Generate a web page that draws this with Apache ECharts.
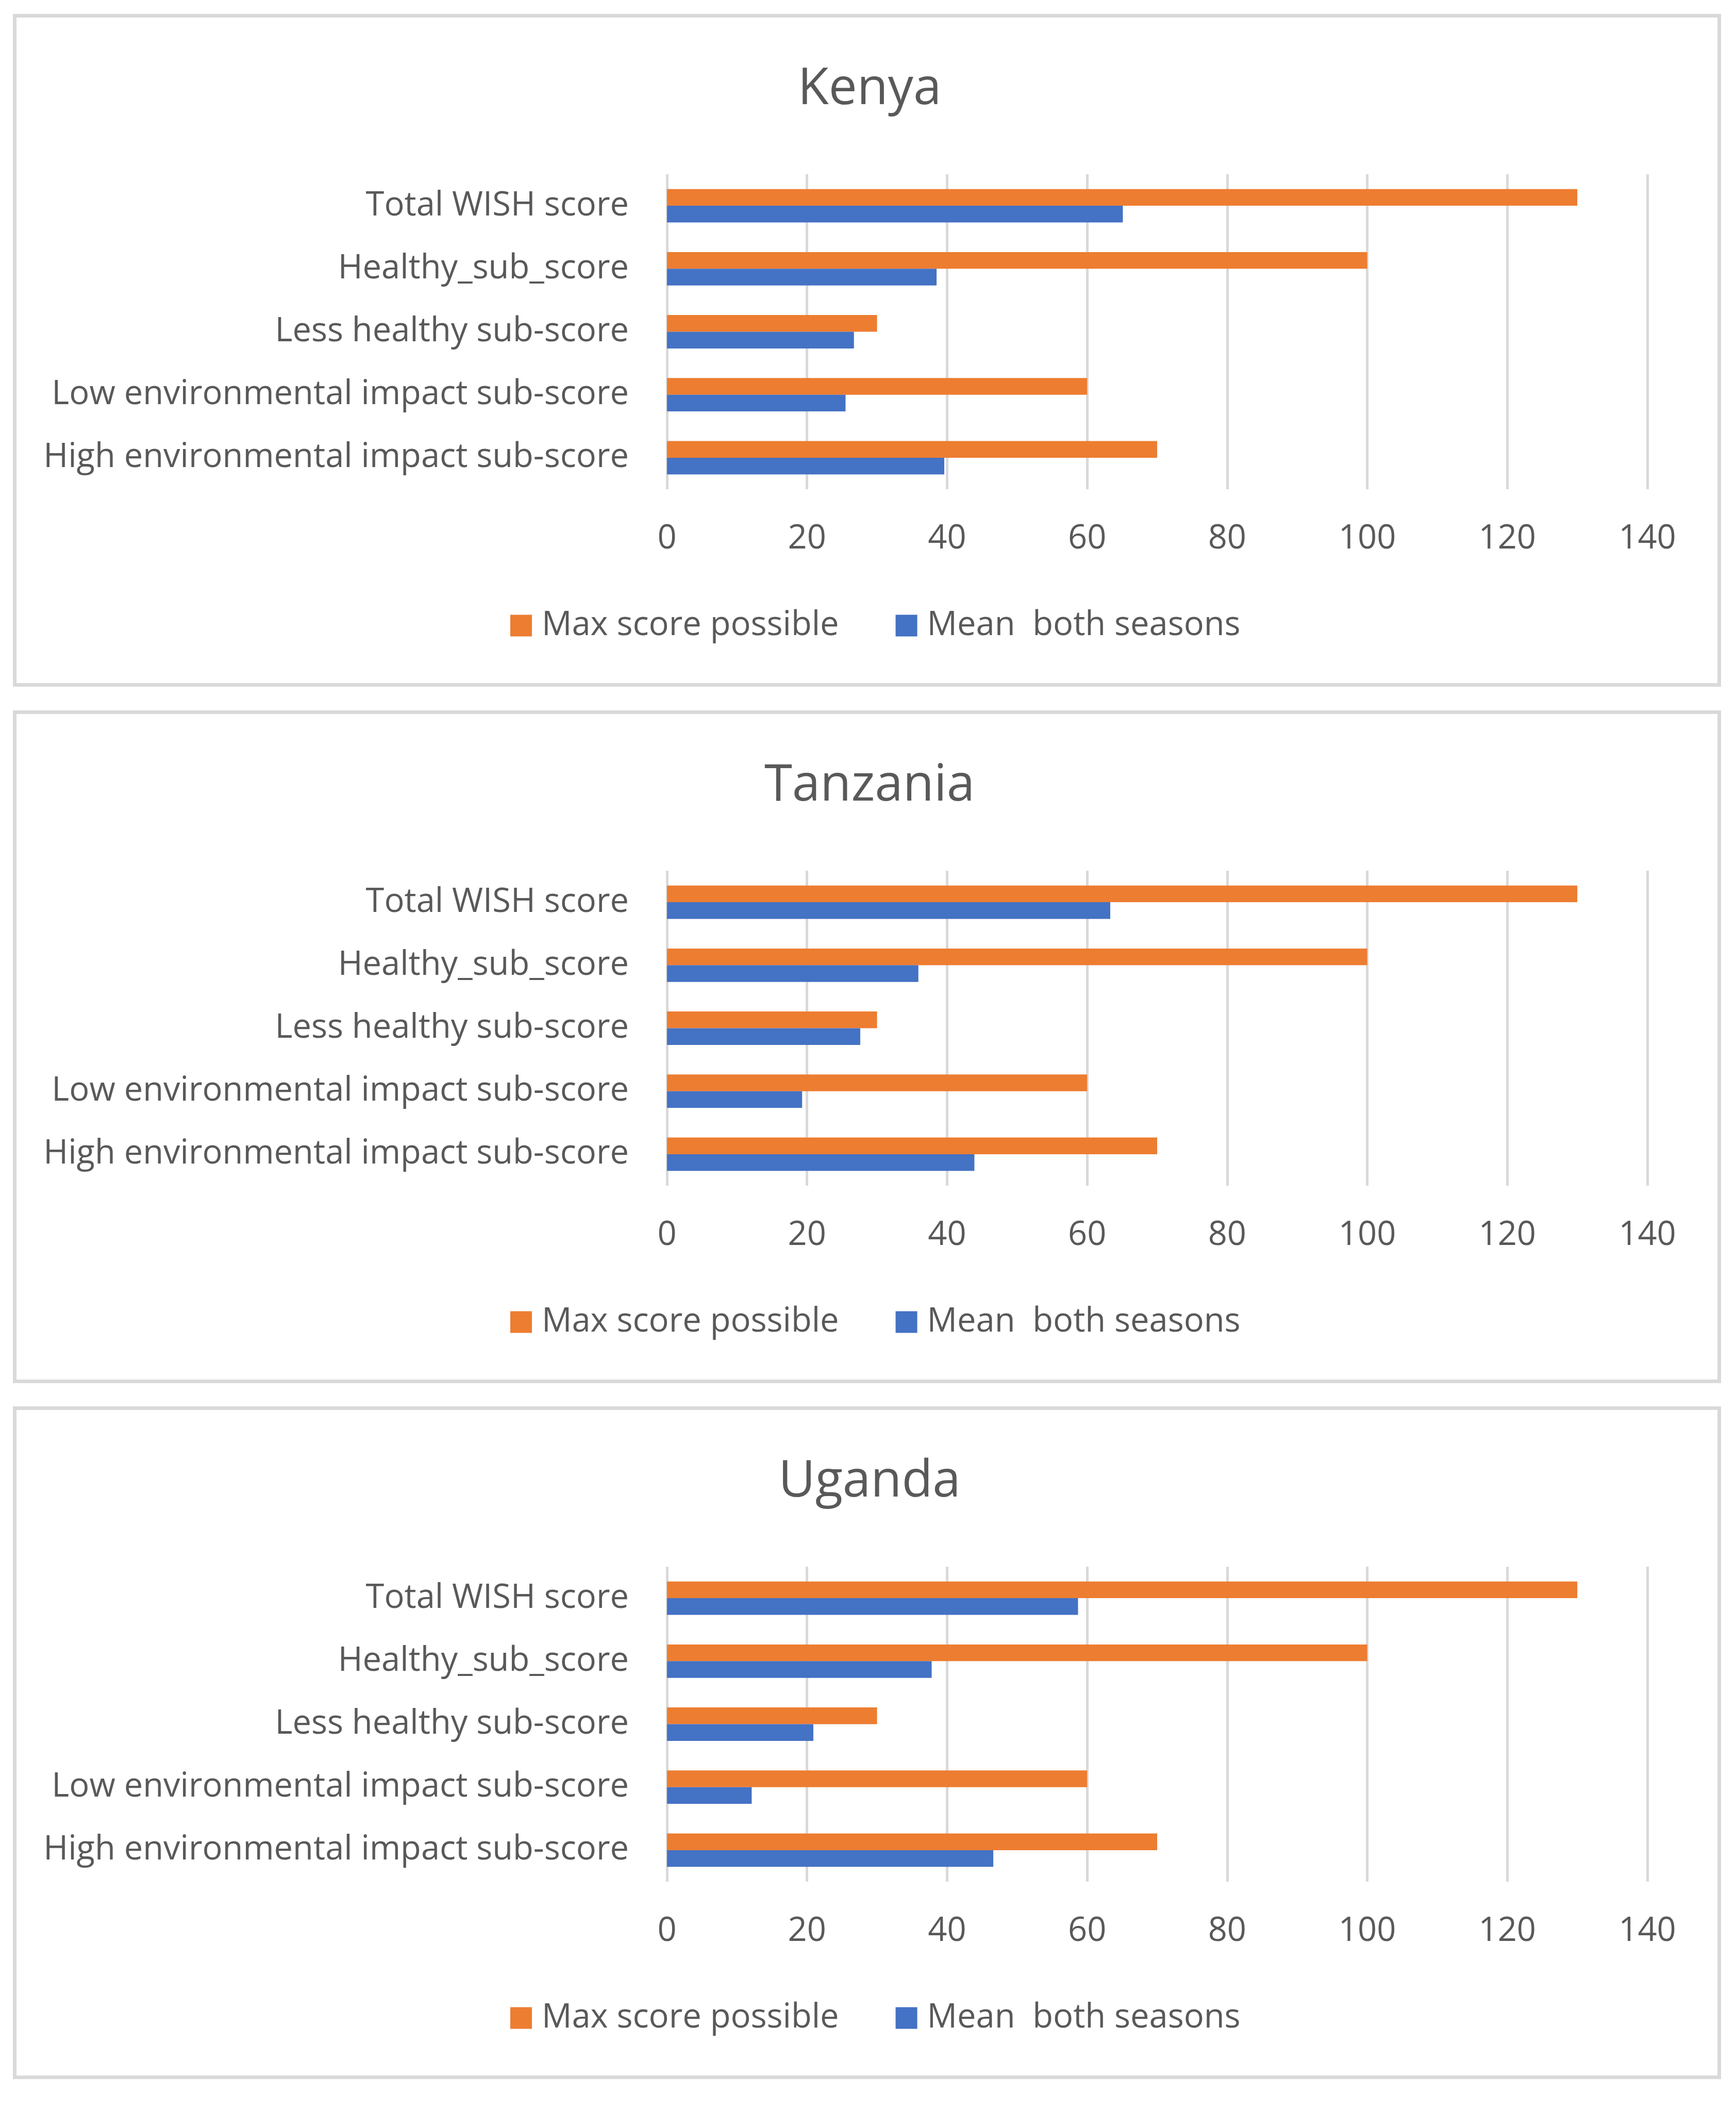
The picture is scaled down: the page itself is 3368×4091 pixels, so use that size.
<!DOCTYPE html>
<html>
<head>
<meta charset="utf-8">
<script src="https://cdn.jsdelivr.net/npm/echarts@6/dist/echarts.min.js"></script>
<style>
  html, body { margin: 0; padding: 0; background: #fff; }
  #chart { width: 3368px; height: 4091px; }
</style>
</head>
<body>
<div id="chart"></div>
<script>
// WISH scores per country
var categories = ['Total WISH score', 'Healthy_sub_score', 'Less healthy sub-score',
                  'Low environmental impact sub-score', 'High environmental impact sub-score'];
var countries = ['Kenya', 'Tanzania', 'Uganda'];
var maxScore = [130, 100, 30, 60, 70];
var meanKenya = [65.1, 38.5, 26.7, 25.5, 39.6];
var meanTanzania = [63.3, 35.9, 27.6, 19.3, 43.9];
var meanUganda = [58.7, 37.8, 20.9, 12.1, 46.6];
var xTicks = { min: 0, max: 140, interval: 20 };

var means = [meanKenya, meanTanzania, meanUganda];
var seriesNames = ['Max score possible', 'Mean  both seasons'];

var chart = echarts.init(document.getElementById('chart'));

var font = '"Open Sans", "Noto Sans", sans-serif';
var textColor = '#595959';
var gridColor = '#d9d9d9';
var panelStep = 1350.5;

var option = {
    animation: false,
    backgroundColor: '#fff',
    color: ['#ED7D31', '#4472C4'],
    title: [],
    legend: [],
    grid: [],
    xAxis: [],
    yAxis: [],
    series: [],
    graphic: []
};

countries.forEach(function (name, i) {
    var dy = Math.round(i * panelStep);

    option.graphic.push({
        type: 'rect',
        shape: { x: 28.5, y: 30.5 + dy, width: 3307, height: 1298 },
        style: { fill: 'none', stroke: gridColor, lineWidth: 7 },
        z: -1
    });

    option.title.push({
        text: name,
        left: 1682,
        top: 120 + dy,
        textAlign: 'center',
        textStyle: { fontFamily: font, fontSize: 98, fontWeight: 'normal', color: textColor }
    });

    option.legend.push({
        data: seriesNames,
        left: 985,
        top: 1176 + dy,
        itemWidth: 42,
        itemHeight: 42,
        itemGap: 110,
        icon: 'rect',
        textStyle: { fontFamily: font, fontSize: 65, color: textColor, padding: [0, 0, 0, 14] }
    });

    option.grid.push({
        left: 1294,
        right: 172,
        top: 338 + dy,
        height: 611
    });

    option.xAxis.push({
        type: 'value',
        gridIndex: i,
        min: xTicks.min,
        max: xTicks.max,
        interval: xTicks.interval,
        axisLine: { show: false },
        axisTick: { show: false },
        axisLabel: { fontFamily: font, fontSize: 65, color: textColor, margin: 64 },
        splitLine: { show: true, lineStyle: { color: gridColor, width: 5 } }
    });

    option.yAxis.push({
        type: 'category',
        gridIndex: i,
        data: categories,
        inverse: true,
        axisLine: { show: false },
        axisTick: { show: false },
        axisLabel: { fontFamily: font, fontSize: 65, color: textColor, margin: 74 }
    });

    option.series.push({
        name: seriesNames[0],
        type: 'bar',
        xAxisIndex: i,
        yAxisIndex: i,
        data: maxScore,
        barGap: '0%',
        barCategoryGap: '47%'
    });
    option.series.push({
        name: seriesNames[1],
        type: 'bar',
        xAxisIndex: i,
        yAxisIndex: i,
        data: means[i],
        barGap: '0%',
        barCategoryGap: '47%'
    });
});

chart.setOption(option);
</script>
</body>
</html>
